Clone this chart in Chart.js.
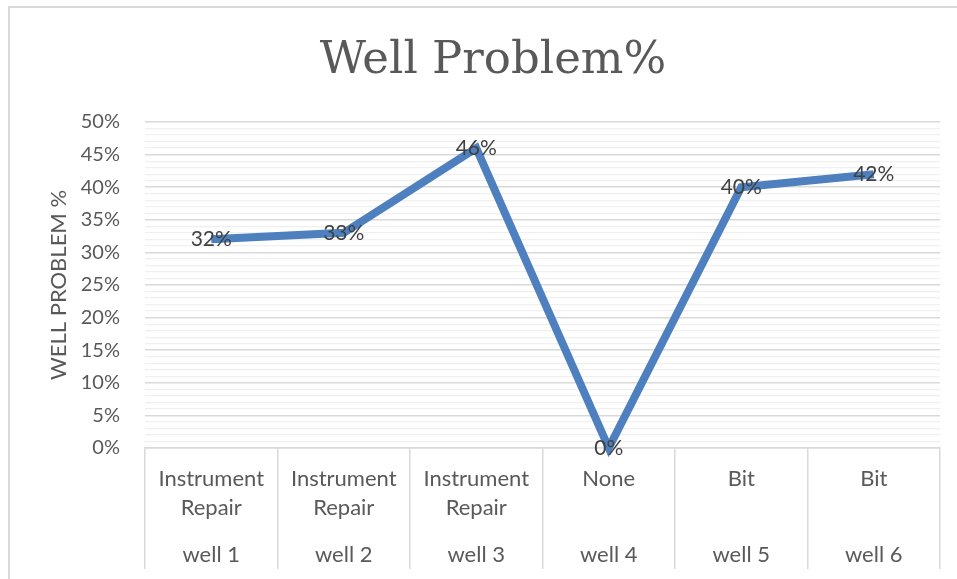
<!DOCTYPE html>
<html>
<head>
<meta charset="utf-8">
<script src="https://cdn.jsdelivr.net/npm/chart.js@4"></script>
<style>
  body { margin: 0; background: #fff; }
  #frame {
    position: absolute; left: 8px; top: 6px;
    width: 949px; height: 573px;
    border-left: 2px solid #d9d9d9; border-top: 2px solid #d9d9d9;
  }
  #chart { display: block; }
</style>
</head>
<body>
<div id="frame"><canvas id="chart" width="947" height="571"></canvas></div>
<script>
const problems = [
    ['Instrument', 'Repair'],
    ['Instrument', 'Repair'],
    ['Instrument', 'Repair'],
    'None',
    'Bit',
    'Bit',
];
const wells = ['well 1', 'well 2', 'well 3', 'well 4', 'well 5', 'well 6'];
const problemPct = [32, 33, 46, 0, 40, 42];

const labelFont = { family: 'Lato', size: 22, lineHeight: 1.32 };
const grey = '#595959';
const lineGrey = '#d9d9d9';

// value labels drawn on each point
const pointLabels = {
    id: 'pointLabels',
    afterDatasetsDraw(chart) {
        const ctx = chart.ctx;
        const meta = chart.getDatasetMeta(0);
        ctx.save();
        ctx.font = '21px Lato';
        ctx.fillStyle = '#404040';
        ctx.textAlign = 'center';
        ctx.textBaseline = 'middle';
        meta.data.forEach((pt, i) => {
            ctx.fillText(problemPct[i] + '%', pt.x, pt.y);
        });
        ctx.restore();
    }
};

new Chart(document.getElementById('chart'), {
    type: 'line',
    data: {
        labels: problems,
        datasets: [{
            data: problemPct,
            borderColor: '#4E7FBE',
            borderWidth: 8,
            pointRadius: 0,
            tension: 0,
            clip: false,
        }],
    },
    options: {
        responsive: false,
        animation: false,
        layout: { padding: { left: 36, right: 17, top: 0, bottom: 10 } },
        plugins: {
            legend: { display: false },
            tooltip: { enabled: false },
            title: {
                display: true,
                text: 'Well Problem%',
                color: grey,
                font: { family: 'DejaVu Serif', size: 45, weight: 'normal', lineHeight: 1.2 },
                padding: { top: 26, bottom: 34 },
            },
        },
        scales: {
            y: {
                min: 0,
                max: 50,
                afterFit: (s) => { s.width = 99; },
                border: { display: false },
                grid: {
                    drawTicks: false,
                    color: (c) => (c.tick.value % 5 === 0 ? lineGrey : '#f0f0f0'),
                    lineWidth: (c) => (c.tick.value % 5 === 0 ? 1.5 : 1.2),
                },
                ticks: {
                    stepSize: 1,
                    autoSkip: false,
                    padding: 25,
                    color: grey,
                    font: { family: 'Lato', size: 20 },
                    callback: (v) => (v % 5 === 0 ? v + '%' : ''),
                },
                title: {
                    display: true,
                    text: 'WELL PROBLEM %',
                    color: grey,
                    font: { family: 'Lato', size: 22 },
                    padding: { top: 0, bottom: 10 },
                },
            },
            x: {
                offset: true,
                afterFit: (s) => { s.height = 75; },
                border: { display: true, color: lineGrey, width: 1.5 },
                grid: { offset: true, drawOnChartArea: false, tickLength: 75, color: lineGrey, lineWidth: 1.5 },
                ticks: { padding: -59, color: grey, font: labelFont, maxRotation: 0, autoSkip: false },
            },
            x2: {
                type: 'category',
                position: 'bottom',
                labels: wells,
                offset: true,
                afterFit: (s) => { s.height = 46; },
                border: { display: false },
                grid: { offset: true, drawOnChartArea: false, tickLength: 46, color: lineGrey, lineWidth: 1.5 },
                ticks: { padding: -29, color: grey, font: labelFont, maxRotation: 0, autoSkip: false },
            },
        },
    },
    plugins: [pointLabels],
});
</script>
</body>
</html>
